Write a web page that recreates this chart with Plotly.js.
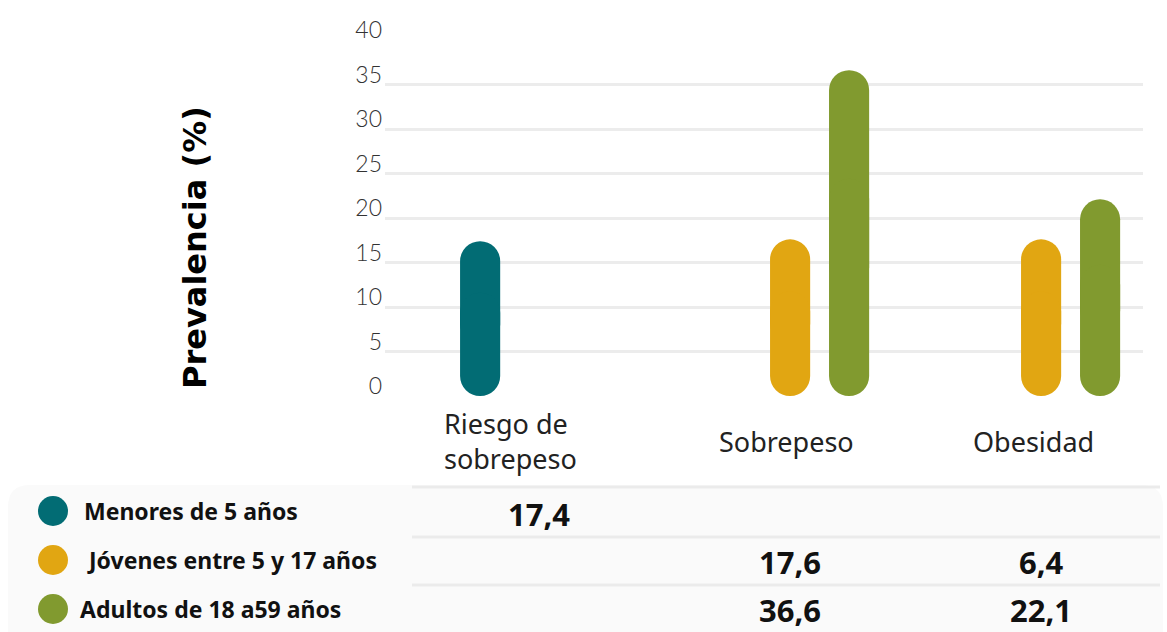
<!DOCTYPE html>
<html>
<head>
<meta charset="utf-8">
<script src="https://cdn.plot.ly/plotly-3.0.1.min.js"></script>
<style>html,body{margin:0;padding:0;background:#fff;}#chart{width:1167px;height:632px;}</style>
</head>
<body>
<div id="chart"></div>
<script>
// ---- data ----
var categories = ["Riesgo de<br>sobrepeso", "Sobrepeso", "Obesidad"];
var seriesNames = ["Menores de 5 años", "Jóvenes entre 5 y 17 años", "Adultos de 18 a59 años"];
var menores = [17.4, null, null];
var jovenes = [null, 17.6, 17.6];      // bar heights as drawn
var adultos = [null, 36.6, 22.1];
var menoresLabels = ["17,4", "", ""];
var jovenesLabels = ["", "17,6", "6,4"];
var adultosLabels = ["", "36,6", "22,1"];
var yTicks = [0, 5, 10, 15, 20, 25, 30, 35, 40];

var colors = ["#026c74", "#e1a612", "#819a2f"];
var seriesVals = [menores, jovenes, adultos];
var seriesLabels = [menoresLabels, jovenesLabels, adultosLabels];

// pixel helpers (plot area 385..1143 x, 40..396 y)
var L = 385, R = 1143, T = 40, B = 396;
function px(x) { return (x - L) / (R - L); }
function py(y) { return (B - y) / (B - T); }

function scale(arr, f) { return arr.map(function (v) { return v == null ? null : v * f; }); }

var traces = [];
seriesVals.forEach(function (vals, i) {
  // upper part (from 1/3 of the value to the value): rounded top
  traces.push({
    type: "bar", x: categories, y: scale(vals, 2 / 3), base: scale(vals, 1 / 3), offsetgroup: String(i),
    marker: { color: colors[i], cornerradius: "50%", line: { width: 0 } },
    hoverinfo: "skip", showlegend: false
  });
  // lower part (from 2/3 of the value down to 0): rounded bottom
  traces.push({
    type: "bar", x: categories, y: scale(vals, -2 / 3), base: scale(vals, 2 / 3), offsetgroup: String(i),
    marker: { color: colors[i], cornerradius: "50%", line: { width: 0 } },
    hoverinfo: "skip", showlegend: false
  });
});

var FONT = "'Noto Sans', Lato, sans-serif";
var shapes = [];
var annotations = [];

// table background
var bx0 = px(8), bx1 = px(1163), by0 = py(640), by1 = py(485);
var rx = 22 / (R - L), ry = 22 / (B - T);
shapes.push({
  type: "path", xref: "paper", yref: "paper", layer: "below",
  path: "M " + (bx0 + rx) + "," + by1 + " L " + (bx1 - rx) + "," + by1 +
        " Q " + bx1 + "," + by1 + " " + bx1 + "," + (by1 - ry) +
        " L " + bx1 + "," + by0 + " L " + bx0 + "," + by0 +
        " L " + bx0 + "," + (by1 - ry) +
        " Q " + bx0 + "," + by1 + " " + (bx0 + rx) + "," + by1 + " Z",
  fillcolor: "#fafafa", line: { width: 0 }
});
// row separators
[487, 537, 585].forEach(function (yy) {
  shapes.push({ type: "line", xref: "paper", yref: "paper", x0: px(412), x1: px(1160),
    y0: py(yy), y1: py(yy), line: { color: "#ebebeb", width: 3 } });
});
// legend rows
var rowY = [511, 560, 609];
var valY = [514, 562, 610];
var legendX = [82, 85, 78];
seriesNames.forEach(function (name, i) {
  shapes.push({ type: "circle", xref: "paper", yref: "paper", xsizemode: "pixel", ysizemode: "pixel",
    xanchor: px(53), yanchor: py(rowY[i]), x0: -15, x1: 15, y0: -15, y1: 15,
    fillcolor: colors[i], line: { width: 0 } });
  annotations.push({ xref: "paper", yref: "paper", x: px(legendX[i]), y: py(rowY[i]),
    xanchor: "left", yanchor: "middle", showarrow: false, text: "<b>" + name + "</b>",
    font: { family: FONT, size: 23, color: "#111" } });
  seriesLabels[i].forEach(function (lab, j) {
    if (!lab) return;
    annotations.push({ xref: "x", yref: "paper", x: categories[j], y: py(valY[i]),
      xanchor: "center", yanchor: "middle", showarrow: false, text: "<b>" + lab + "</b>",
      font: { family: FONT, size: 31, color: "#111" } });
  });
});
// category labels
var catShift = [-29, -4, -8];
categories.forEach(function (c, j) {
  annotations.push({ xref: "x", yref: "paper", x: c, xshift: catShift[j], y: py(441),
    xanchor: "center", yanchor: "middle", align: "left", showarrow: false, text: c,
    font: { family: FONT, size: 27, color: "#222" } });
});
// y-axis title
annotations.push({ xref: "paper", yref: "paper", x: px(195), y: py(248), textangle: -90,
  xanchor: "center", yanchor: "middle", showarrow: false, text: "<b>Prevalencia (%)</b>",
  font: { family: "'DejaVu Sans', sans-serif", size: 32, color: "#000" } });

var layout = {
  width: 1167, height: 632,
  margin: { l: L, r: 1167 - R, t: T, b: 632 - B, pad: 0 },
  paper_bgcolor: "#ffffff", plot_bgcolor: "#ffffff",
  barmode: "group", bargap: 0.295, bargroupgap: 0.32,
  showlegend: false,
  xaxis: { type: "category", range: [-0.614, 2.406], showticklabels: false, showgrid: false,
    zeroline: false, showline: false, ticks: "", fixedrange: true },
  yaxis: { range: [0, 40], tickvals: yTicks, showgrid: true, gridcolor: "#ececec", gridwidth: 3,
    zeroline: false, showline: false, ticks: "", ticklabelshift: -10, ticklabelstandoff: 2,
    tickfont: { family: "Lato, sans-serif", size: 23, color: "#333", weight: 300 }, fixedrange: true },
  shapes: shapes,
  annotations: annotations
};

Plotly.newPlot("chart", traces, layout, { displayModeBar: false, staticPlot: true });
</script>
</body>
</html>
